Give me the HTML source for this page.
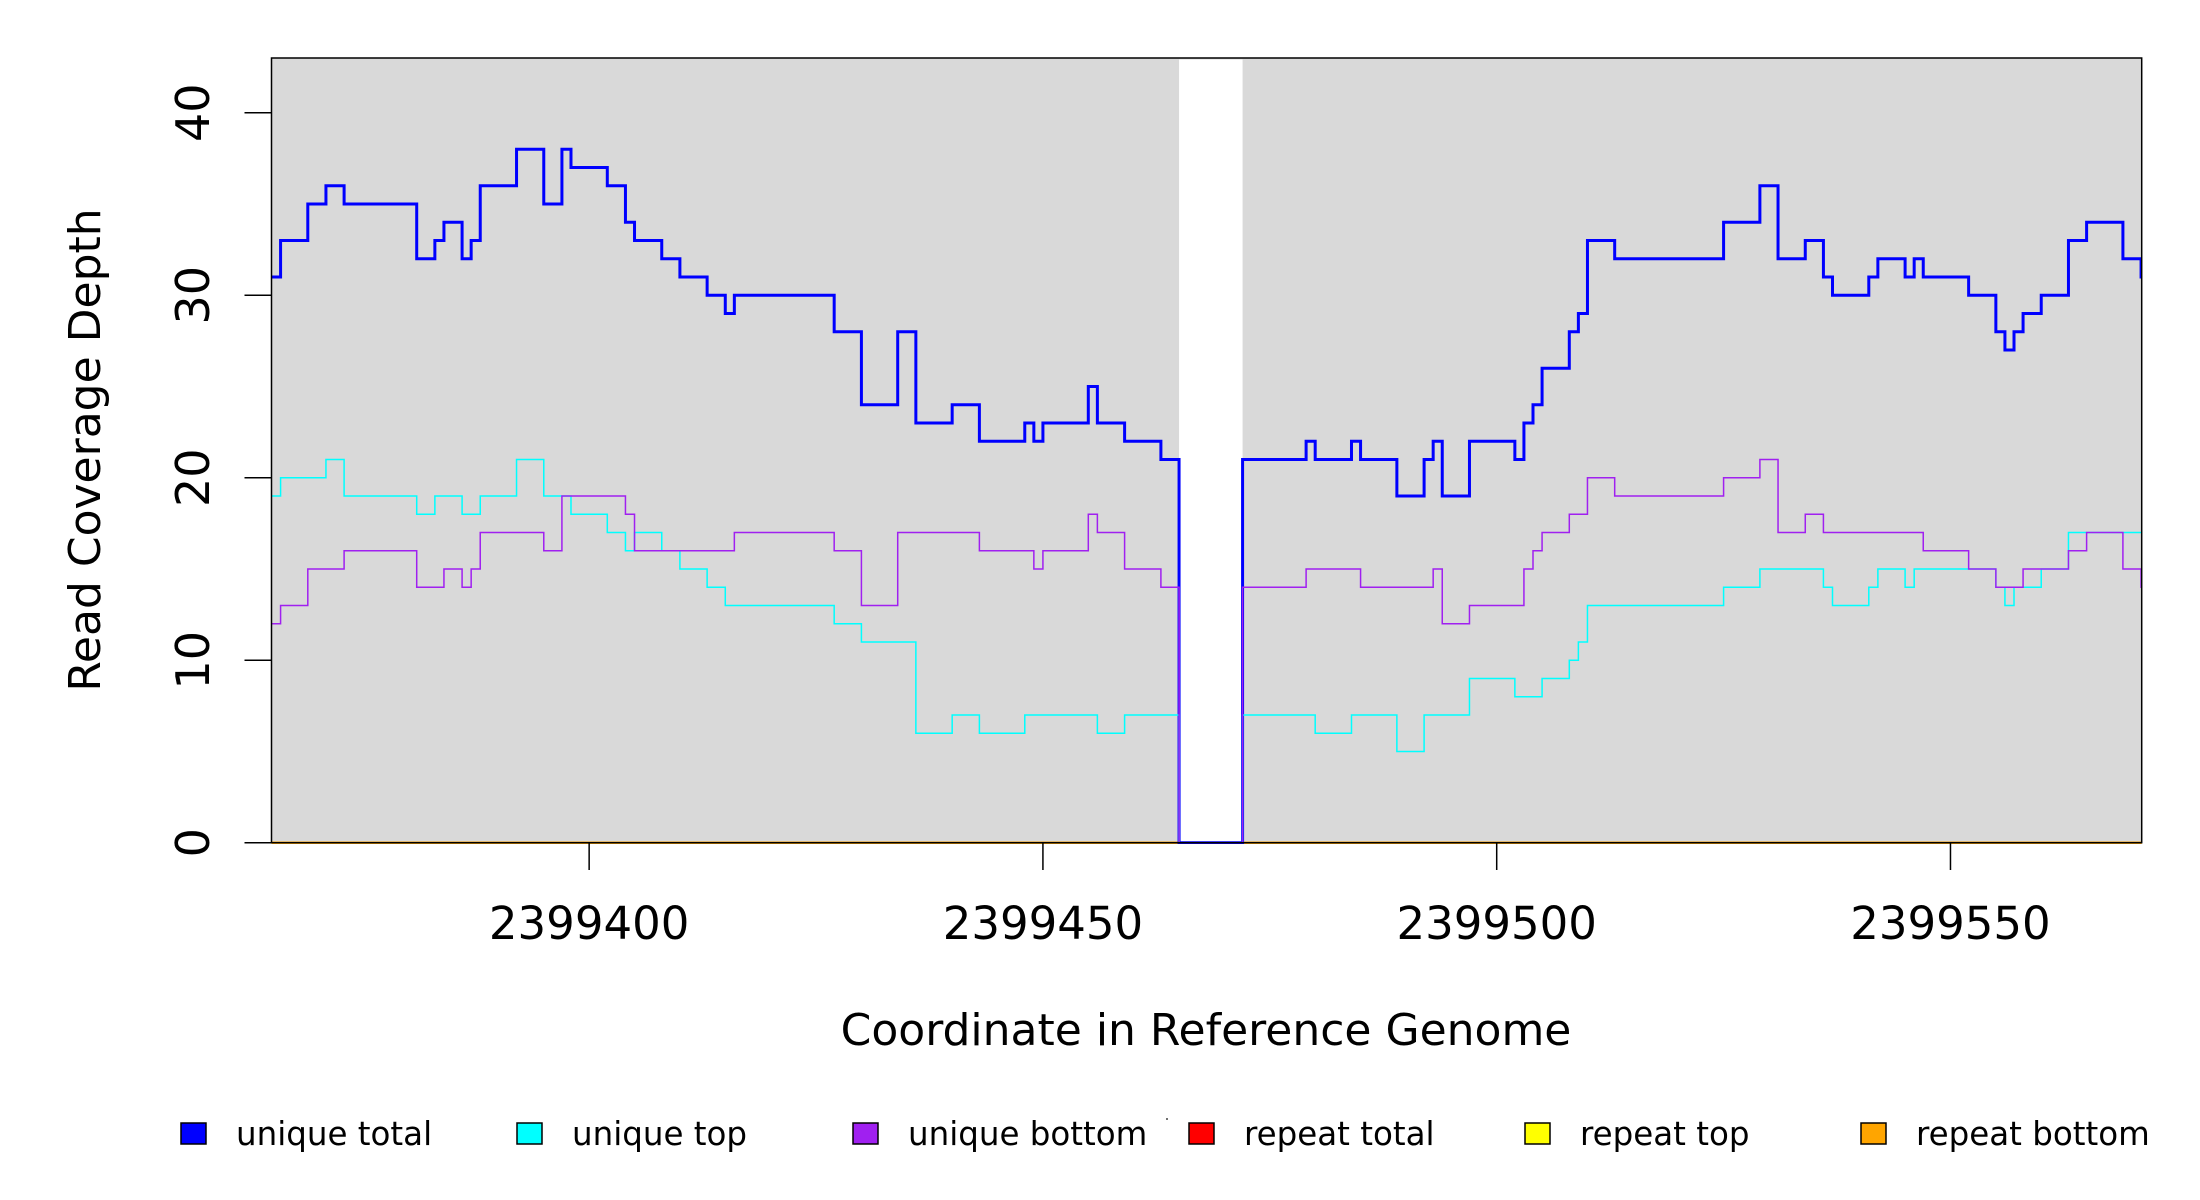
<!DOCTYPE html>
<html><head><meta charset="utf-8"><style>
html,body{margin:0;padding:0;background:#fff;}
svg{display:block;font-family:"DejaVu Sans","Liberation Sans",sans-serif;}
</style></head><body>
<svg id="chart" width="2200" height="1200" viewBox="0 0 2200 1200" xmlns="http://www.w3.org/2000/svg">
<defs><clipPath id="plotclip"><rect x="271.5" y="58" width="1870.2" height="786"/></clipPath></defs>
<rect x="271.5" y="58" width="1870.2" height="784.7" fill="#d9d9d9"/>
<g id="gapg"></g>
<g id="series" clip-path="url(#plotclip)"></g>
<rect x="271.5" y="58" width="1870.2" height="784.7" fill="none" stroke="#000" stroke-width="1.5"/>
<g id="axes"></g>
<text x="1206" y="1045" font-size="44" text-anchor="middle">Coordinate in Reference Genome</text>
<text transform="translate(100,450) rotate(-90)" font-size="44" text-anchor="middle">Read Coverage Depth</text>
<circle cx="1167" cy="1119" r="1" fill="#444"/>
<g id="legend"></g>
</svg>
<script>
const startPos = 2399365;
const xMin = 2399365, xMax = 2399571.07;
const yMax = 43.0;
const xTicks = [2399400, 2399450, 2399500, 2399550];
const xTickLabels = ["2399400", "2399450", "2399500", "2399550"];
const yTicks = [0, 10, 20, 30, 40];
const yTickLabels = ["0", "10", "20", "30", "40"];
const gapStart = 2399465, gapEnd = 2399472;
const totalValues = [31,33,35,36,35,32,33,34,32,33,36,38,35,38,37,36,34,33,32,31,30,29,30,28,24,28,23,24,22,23,22,23,25,23,22,21,0,21,22,21,22,21,19,21,22,19,22,21,23,24,26,28,29,33,32,34,36,32,33,31,30,31,32,31,32,31,30,28,27,28,29,30,33,34,32,31];
const totalLengths = [1,3,2,2,8,2,1,2,1,1,4,3,2,1,4,2,1,3,2,3,2,1,11,3,4,2,4,3,5,1,1,5,1,3,4,2,7,7,1,4,1,4,3,1,1,3,5,1,1,1,3,1,1,3,12,4,2,3,2,1,4,1,3,1,1,5,3,1,1,1,2,3,2,4,2,1];
const topValues = [19,20,21,19,18,19,18,19,21,19,18,17,16,17,16,15,14,13,12,11,6,7,6,7,6,7,0,7,6,7,5,7,9,8,9,10,11,13,14,15,14,13,14,15,14,15,14,13,14,15,17];
const topLengths = [1,5,2,8,2,3,2,4,3,3,4,2,1,3,2,3,2,12,3,6,4,3,5,8,3,6,7,8,4,5,3,5,5,3,3,1,1,15,4,7,1,4,1,3,1,9,1,1,3,3,9];
const bottomValues = [12,13,15,16,14,15,14,15,17,16,19,18,16,17,16,13,17,16,15,16,18,17,15,14,0,14,15,14,15,12,13,15,16,17,18,20,19,20,21,17,18,17,16,15,14,15,16,17,15,14];
const bottomLengths = [1,3,4,8,3,2,1,1,7,2,7,1,11,11,3,4,9,6,1,5,1,3,4,2,7,7,6,8,1,3,6,1,1,3,2,3,12,4,2,3,2,11,5,3,3,5,2,4,2,3];
const repeatValue = [0, 0, 0];
const legendLabels = ["unique total","unique top","unique bottom","repeat total","repeat top","repeat bottom"];
const legendColors = ["#0000ff","#00ffff","#a020f0","#ff0000","#ffff00","#ffa500"];

const NS = "http://www.w3.org/2000/svg";
const PL = 271.5, PR = 2141.7, PT = 58, PB = 842.7;
function xs(p){ return PL + (p - xMin) / (xMax - xMin) * (PR - PL); }
function ys(v){ return PB - v / yMax * (PB - PT); }
function mk(tag, attrs, parent){ const e = document.createElementNS(NS, tag); for (const k in attrs) e.setAttribute(k, attrs[k]); parent.appendChild(e); return e; }

const gapG = document.getElementById('gapg');
const gap = mk('rect', {x: xs(gapStart), y: PT + 1.5, width: xs(gapEnd) - xs(gapStart), height: PB - PT - 1.5, fill: '#fff'}, gapG);



function stepPath(values, lengths){
  let p = startPos, d = '';
  for (let i = 0; i < values.length; i++){
    const y = ys(values[i]);
    d += (i === 0 ? 'M' : 'L') + xs(p).toFixed(2) + ',' + y.toFixed(2);
    p += lengths[i];
    d += 'L' + xs(p).toFixed(2) + ',' + y.toFixed(2);
  }
  d += 'L' + (xs(p)+20).toFixed(2) + ',' + ys(values[values.length-1]).toFixed(2);
  return d;
}
const sg = document.getElementById('series');
const repColors = ['#ff0000', '#ffff00', '#ffa500'];
const repNames = ['repeat-total-line', 'repeat-top-line', 'repeat-bottom-line'];
for (let i = 0; i < 3; i++){
  const e = mk('line', {x1: PL, x2: PR, y1: ys(repeatValue[i]), y2: ys(repeatValue[i]), stroke: repColors[i], 'stroke-width': 2.5}, sg);
  
  
}
const endVals = {total: 31, top: 17, bottom: 14};
function addSeries(values, lengths, endVal, color, w, name){
  const v = values.concat([endVal]), l = lengths.concat([1]);
  const e = mk('path', {d: stepPath(v, l), fill: 'none', stroke: color, 'stroke-width': w, 'stroke-linejoin': 'miter'}, sg);
  
  
}
addSeries(totalValues, totalLengths, endVals.total, '#0000ff', 3, 'unique-total-line');
addSeries(topValues, topLengths, endVals.top, '#00ffff', 1.5, 'unique-top-line');
addSeries(bottomValues, bottomLengths, endVals.bottom, '#a020f0', 1.5, 'unique-bottom-line');

const ax = document.getElementById('axes');
xTicks.forEach((t, i) => {
  const l = mk('line', {x1: xs(t), x2: xs(t), y1: PB, y2: 870, stroke: '#000', 'stroke-width': 1.5}, ax);
  
  
  const tx = mk('text', {x: xs(t), y: 939, 'font-size': 45, 'text-anchor': 'middle'}, ax);
  tx.textContent = xTickLabels[i];
  
  
});
yTicks.forEach((t, i) => {
  const l = mk('line', {x1: 244.5, x2: PL, y1: ys(t), y2: ys(t), stroke: '#000', 'stroke-width': 1.5}, ax);
  
  
  const tx = mk('text', {transform: 'translate(209,' + ys(t) + ') rotate(-90)', 'font-size': 46, 'text-anchor': 'middle'}, ax);
  tx.textContent = yTickLabels[i];
  
  
});

const lg = document.getElementById('legend');
legendLabels.forEach((lab, i) => {
  const x0 = 181 + i * 336;
  const g = mk('g', {}, lg);
  
  
  mk('rect', {x: x0, y: 1123, width: 25, height: 21, fill: legendColors[i], stroke: '#000', 'stroke-width': 1.5}, g);
  const t = mk('text', {x: x0 + 55, y: 1145, 'font-size': 32.5}, g);
  t.textContent = lab;
});
</script>
</body></html>
